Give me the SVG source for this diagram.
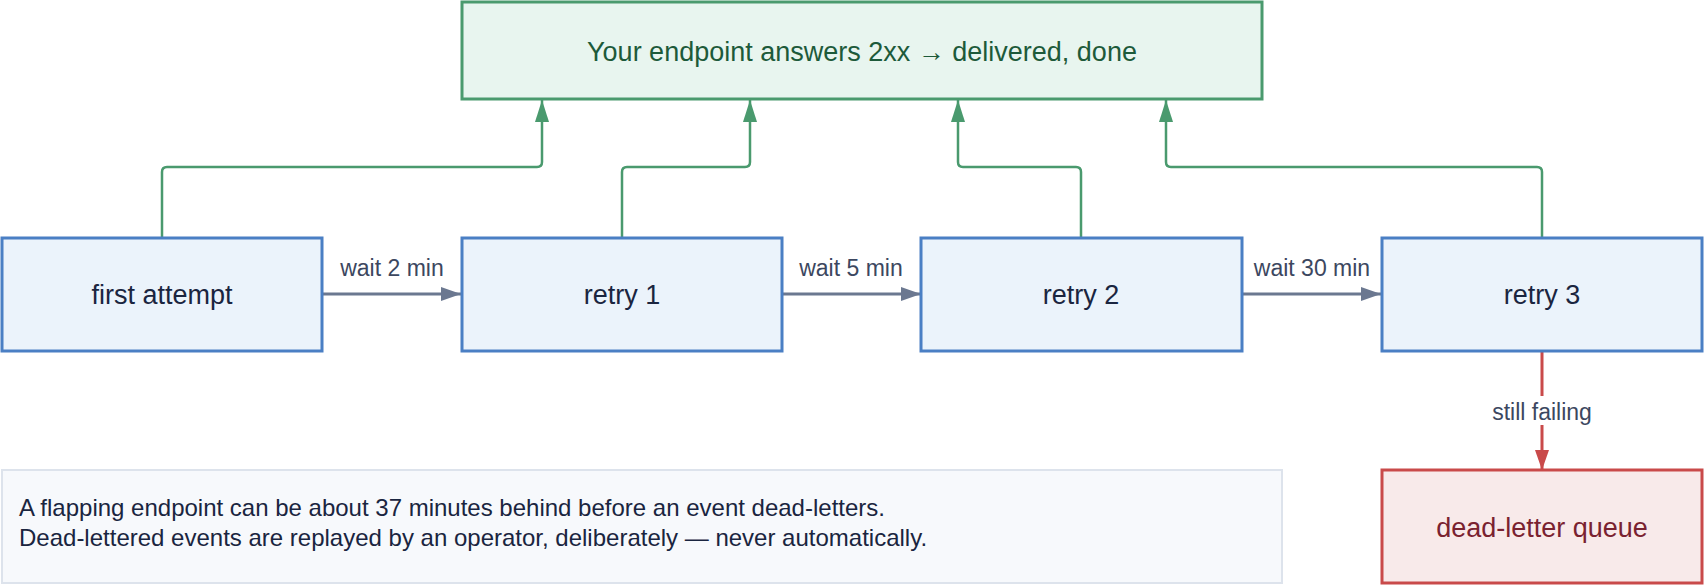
<svg xmlns="http://www.w3.org/2000/svg" width="1706" height="586" viewBox="0 0 1706 586">
<defs>
<marker id="ag" viewBox="0 0 10 10" refX="10" refY="5" markerWidth="22" markerHeight="14" markerUnits="userSpaceOnUse" orient="auto" preserveAspectRatio="none"><path d="M0,0 L10,5 L0,10 z" fill="#4a9a6e"/></marker>
<marker id="ab" viewBox="0 0 10 10" refX="10" refY="5" markerWidth="20" markerHeight="14" markerUnits="userSpaceOnUse" orient="auto" preserveAspectRatio="none"><path d="M0,0 L10,5 L0,10 z" fill="#6b7890"/></marker>
<marker id="ar" viewBox="0 0 10 10" refX="10" refY="5" markerWidth="20" markerHeight="14" markerUnits="userSpaceOnUse" orient="auto" preserveAspectRatio="none"><path d="M0,0 L10,5 L0,10 z" fill="#c94a4a"/></marker>
</defs>
<style>
text{font-family:"Liberation Sans",Arial,sans-serif}
.n rect{fill:#ebf3fb;stroke:#4a7fc4;stroke-width:3}
.n text{font-size:27px;fill:#1a2540;text-anchor:middle}
.g{fill:none;stroke:#4a9a6e;stroke-width:2.5;marker-end:url(#ag)}
.w{fill:none;stroke:#6b7890;stroke-width:3;marker-end:url(#ab)}
.lbl{font-size:23px;fill:#3c4760;text-anchor:middle}
</style>
<rect width="1706" height="586" fill="#fff"/>
<g id="connectors">
<path class="g" d="M162,237 V172 Q162,167 167,167 H537 Q542,167 542,162 V100"/>
<path class="g" d="M622,237 V172 Q622,167 627,167 H745 Q750,167 750,162 V100"/>
<path class="g" d="M1081,237 V172 Q1081,167 1076,167 H963 Q958,167 958,162 V100"/>
<path class="g" d="M1542,237 V172 Q1542,167 1537,167 H1171 Q1166,167 1166,162 V100"/>
<path class="w" d="M323,294 H461"/>
<path class="w" d="M782,294 H921"/>
<path class="w" d="M1243,294 H1381"/>
<path d="M1542,351 V396 M1542,425 V470" fill="none" stroke="#c94a4a" stroke-width="3" marker-end="url(#ar)"/>
<text class="lbl" x="392" y="276">wait 2 min</text>
<text class="lbl" x="851" y="276">wait 5 min</text>
<text class="lbl" x="1312" y="276">wait 30 min</text>
<text class="lbl" x="1542" y="420">still failing</text>
</g>
<g id="done"><rect x="462" y="2" width="800" height="97" fill="#e8f5ef" stroke="#4a9a6e" stroke-width="3"/><text x="862" y="61" font-size="27" fill="#1d5a3a" text-anchor="middle">Your endpoint answers 2xx → delivered, done</text></g>
<g id="first" class="n"><rect x="2" y="238" width="320" height="113"/><text x="162" y="304">first attempt</text></g>
<g id="retry1" class="n"><rect x="462" y="238" width="320" height="113"/><text x="622" y="304">retry 1</text></g>
<g id="retry2" class="n"><rect x="921" y="238" width="321" height="113"/><text x="1081" y="304">retry 2</text></g>
<g id="retry3" class="n"><rect x="1382" y="238" width="320" height="113"/><text x="1542" y="304">retry 3</text></g>
<g id="dlq"><rect x="1382" y="470" width="320" height="113" fill="#f8eaea" stroke="#c94a4a" stroke-width="3"/><text x="1542" y="537" font-size="27" fill="#7a2230" text-anchor="middle">dead-letter queue</text></g>
<g id="note"><rect x="2" y="470" width="1280" height="113" fill="#f7f9fc" stroke="#dde3ec" stroke-width="2"/>
<text x="19" y="516" font-size="24" fill="#1a2540">A flapping endpoint can be about 37 minutes behind before an event dead-letters.</text>
<text x="19" y="546" font-size="24" fill="#1a2540">Dead-lettered events are replayed by an operator, deliberately — never automatically.</text></g>
</svg>
